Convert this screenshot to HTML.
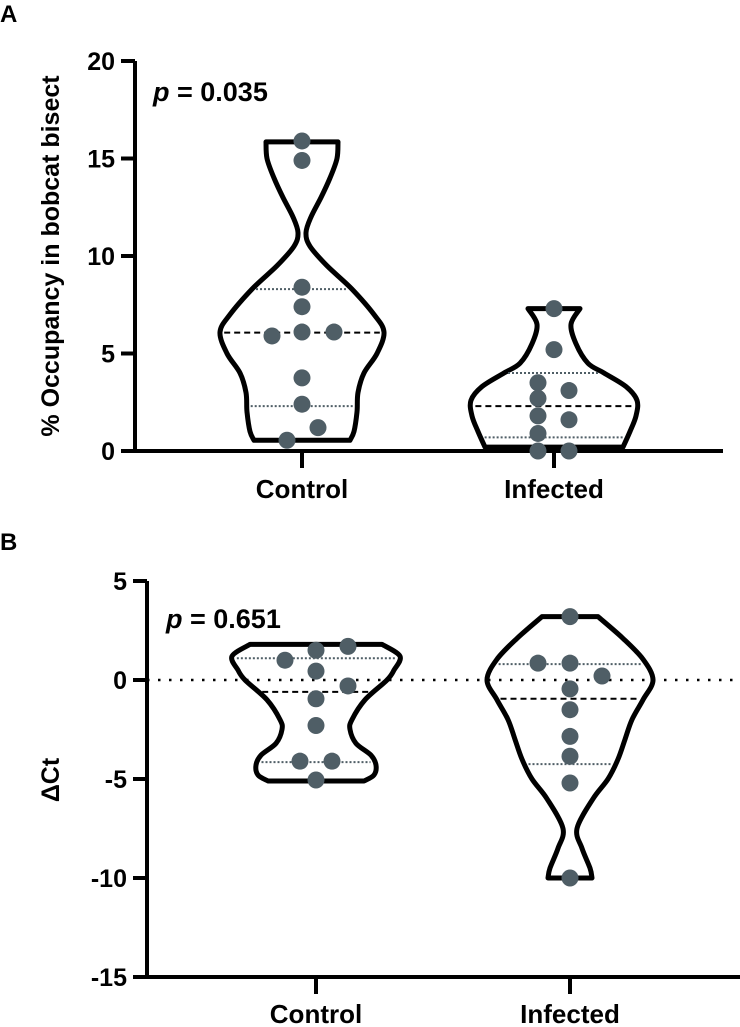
<!DOCTYPE html>
<html><head><meta charset="utf-8"><style>
html,body{margin:0;padding:0;background:#fff}
svg{display:block}
text{font-family:"Liberation Sans",Arial,sans-serif;font-weight:bold;fill:#000}
</style></head><body>
<svg id="chart" width="740" height="1027" viewBox="0 0 740 1027"></svg>
<script>
// ---- Panel A data ----
const catsA = ["Control", "Infected"];
const ctrlA = [15.9, 14.9, 8.4, 7.4, 5.9, 6.1, 6.1, 3.75, 2.4, 1.2, 0.55];
const ctrlAoff = [0, 0, 0, 0, -30, 0, 32, 0, 0, 16, -15];
const infA = [7.3, 5.2, 3.5, 2.7, 1.8, 0.9, 0, 3.1, 1.6, 0];
const infAoff = [0, 0, -16, -16, -16, -16, -16, 15, 15, 15];
const statsCtrlA = [8.3, 6.07, 2.3];
const statsInfA = [4.0, 2.3, 0.7];
const ticksA = [0, 5, 10, 15, 20];
const profCtrlAv = [15.85, 15, 14, 13, 12, 11.2, 10.5, 9.5, 8.3, 7, 6.1, 5, 4, 3, 2, 1, 0.55];
const profCtrlAw = [36, 35, 28, 19, 9, 4, 8, 25, 50, 72, 82, 75, 62, 56, 55, 52, 48];
const profInfAv = [7.3, 6.5, 5.5, 4.5, 4.0, 3.3, 2.6, 1.8, 1.0, 0.2];
const profInfAw = [26, 17, 22, 34, 50, 72, 83, 82, 76, 69];
// ---- Panel B data ----
const catsB = ["Control", "Infected"];
const ctrlB = [1.5, 1.7, 1.0, 0.45, -0.3, -0.95, -2.3, -4.1, -4.1, -5.05];
const ctrlBoff = [0, 32, -31, 0, 32, 0, 0, -16, 16, 0];
const infB = [3.2, 0.85, 0.85, 0.2, -0.45, -1.5, -2.85, -3.85, -5.2, -10.0];
const infBoff = [0, -32, 0, 32, 0, 0, 0, 0, 0, 0];
const statsCtrlB = [1.1, -0.6, -4.15];
const statsInfB = [0.8, -0.95, -4.25];
const ticksB = [-15, -10, -5, 0, 5];
const profCtrlBv = [1.8, 1.2, 0.5, 0, -1, -2, -2.5, -3.2, -3.8, -4.3, -4.8, -5.1];
const profCtrlBw = [66, 84, 78, 71, 49, 36, 34, 40, 55, 60, 58, 48];
const profInfBv = [3.2, 2.1, 1.05, 0, -1, -2, -3, -4, -5, -6, -7.5, -8.5, -9.5, -10];
const profInfBw = [28, 53, 73, 83, 73, 62, 55, 48, 38, 23, 7, 12, 20, 22];

const NS = "http://www.w3.org/2000/svg";
const svg = document.getElementById("chart");
function mk(tag, attrs, parent) {
  const e = document.createElementNS(NS, tag);
  for (const k in attrs) e.setAttribute(k, attrs[k]);
  (parent || svg).appendChild(e);
  return e;
}
function interpW(vs, ws, v) {
  for (let i = 0; i < vs.length - 1; i++) {
    const a = vs[i], b = vs[i + 1];
    if ((v <= a && v >= b)) { const t = (a - v) / (a - b); return ws[i] + t * (ws[i + 1] - ws[i]); }
  }
  return v > vs[0] ? ws[0] : ws[ws.length - 1];
}
function smooth(pts) {
  let d = "";
  for (let i = 0; i < pts.length - 1; i++) {
    const p0 = pts[Math.max(0, i - 1)], p1 = pts[i], p2 = pts[i + 1], p3 = pts[Math.min(pts.length - 1, i + 2)];
    const c1 = [p1[0] + (p2[0] - p0[0]) / 6, p1[1] + (p2[1] - p0[1]) / 6];
    const c2 = [p2[0] - (p3[0] - p1[0]) / 6, p2[1] - (p3[1] - p1[1]) / 6];
    d += " C" + c1[0].toFixed(1) + "," + c1[1].toFixed(1) + " " + c2[0].toFixed(1) + "," + c2[1].toFixed(1) + " " + p2[0].toFixed(1) + "," + p2[1].toFixed(1);
  }
  return d;
}
function panel(cfg) {
  const g = mk("g", {});
  
  
  const y = v => cfg.y0 - (v - cfg.vmin) * cfg.ppu;
  const xc = i => cfg.xcat[i];
  const bottom = y(cfg.vmin);
  if (cfg.zero) {
    const z = mk("line", {x1: cfg.ax, x2: cfg.axEnd, y1: y(0), y2: y(0), stroke: "#000", "stroke-width": 2.5, "stroke-dasharray": "2.5 8.5"}, g);
    
    
  }
  cfg.groups.forEach((grp, i) => {
    const cx = xc(i);
    const right = grp.pv.map((v, k) => [cx + grp.pw[k], y(v)]);
    const left = grp.pv.map((v, k) => [cx - grp.pw[k], y(v)]).reverse();
    let d = "M" + right[0][0] + "," + right[0][1] + smooth(right);
    d += " L" + left[0][0] + "," + left[0][1] + smooth(left) + " Z";
    const vp = mk("path", {d: d, fill: "none", stroke: "#000", "stroke-width": 5, "stroke-linejoin": "round"}, g);
    
    
    grp.stats.forEach((s, k) => {
      const w = interpW(grp.pv, grp.pw, s) - 4;
      const ln = mk("line", {x1: cx - w, x2: cx + w, y1: y(s), y2: y(s),
        stroke: k === 1 ? "#000" : "#4f5e66", "stroke-width": 2,
        "stroke-dasharray": k === 1 ? "6 4" : "2 2"}, g);
      
      
    });
  });
  const ya = mk("line", {x1: cfg.ax, x2: cfg.ax, y1: y(cfg.vmax), y2: bottom + 2, stroke: "#000", "stroke-width": 4}, g);
  
  
  const xa = mk("line", {x1: cfg.ax - 2, x2: cfg.axEnd, y1: bottom, y2: bottom, stroke: "#000", "stroke-width": 4}, g);
  
  
  cfg.ticks.forEach(t => {
    const tl = mk("line", {x1: cfg.ax - 14, x2: cfg.ax, y1: y(t), y2: y(t), stroke: "#000", "stroke-width": 4}, g);
    
    
    const tx = mk("text", {x: cfg.ax - 20, y: y(t) + 9, "text-anchor": "end", "font-size": 25}, g);
    tx.textContent = String(t);
    
    
  });
  cfg.cats.forEach((c, i) => {
    const tl = mk("line", {x1: xc(i), x2: xc(i), y1: bottom, y2: bottom + 17, stroke: "#000", "stroke-width": 4}, g);
    
    
    const tx = mk("text", {x: xc(i), y: bottom + cfg.labOff, "text-anchor": "middle", "font-size": 26}, g);
    tx.textContent = c;
    
    
  });
  cfg.groups.forEach((grp, i) => {
    grp.vals.forEach((v, k) => {
      const c = mk("circle", {cx: xc(i) + grp.off[k], cy: y(v), r: 8.5, fill: "#4f5e66"}, g);
      
      
    });
  });
}
panel({name: "panel-a", y0: 451, vmin: 0, vmax: 20, ppu: 19.5, ax: 135, axEnd: 723, xcat: [302, 554], cats: catsA, ticks: ticksA, zero: false, labOff: 47,
  groups: [{vals: ctrlA, off: ctrlAoff, stats: statsCtrlA, pv: profCtrlAv, pw: profCtrlAw},
           {vals: infA, off: infAoff, stats: statsInfA, pv: profInfAv, pw: profInfAw}]});
panel({name: "panel-b", y0: 977, vmin: -15, vmax: 5, ppu: 19.8, ax: 147, axEnd: 740, xcat: [316, 570], cats: catsB, ticks: ticksB, zero: true, labOff: 46,
  groups: [{vals: ctrlB, off: ctrlBoff, stats: statsCtrlB, pv: profCtrlBv, pw: profCtrlBw},
           {vals: infB, off: infBoff, stats: statsInfB, pv: profInfBv, pw: profInfBw}]});
</script>
<div style="position:absolute;left:0;top:0;width:740px;height:1027px;pointer-events:none">
<svg width="740" height="1027" style="position:absolute;left:0;top:0">
<text x="0" y="22" font-size="24" style="font-family:'Liberation Sans',sans-serif;font-weight:bold">A</text>
<text x="0" y="550" font-size="24" style="font-family:'Liberation Sans',sans-serif;font-weight:bold">B</text>
<text transform="translate(59,256) rotate(-90)" text-anchor="middle" font-size="25" style="font-family:'Liberation Sans',sans-serif;font-weight:bold">% Occupancy in bobcat bisect</text>
<text transform="translate(59,780) rotate(-90)" text-anchor="middle" font-size="25" style="font-family:'Liberation Sans',sans-serif;font-weight:bold">ΔCt</text>
<text x="153" y="101" font-size="27" style="font-family:'Liberation Sans',sans-serif;font-weight:bold"><tspan font-style="italic">p</tspan> = 0.035</text>
<text x="166" y="628" font-size="27" style="font-family:'Liberation Sans',sans-serif;font-weight:bold"><tspan font-style="italic">p</tspan> = 0.651</text>
</svg></div>
</body></html>
